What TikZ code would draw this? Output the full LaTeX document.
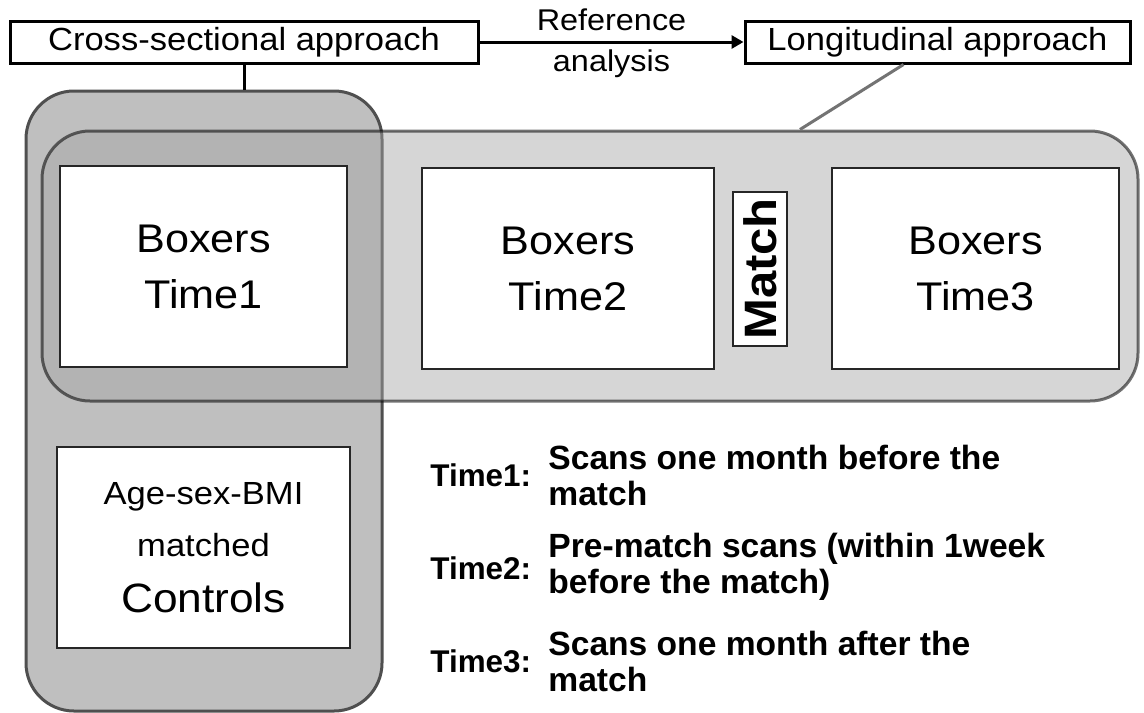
\documentclass[tikz,border=0pt]{standalone}
\usepackage{fontspec}
\setmainfont{Liberation Sans}[FakeStretch=1.08]
\newfontfamily\legendfamily{Liberation Sans}
\usetikzlibrary{arrows.meta}

\begin{document}
\begin{tikzpicture}[x=0.5pt, y=-0.5pt,
  groupbox/.style={rounded corners=24pt, line width=1.5pt, inner sep=0pt},
  timebox/.style={draw=black!85, line width=1pt, fill=white, inner sep=0pt, align=center,
    minimum width=143.5pt, minimum height=100.5pt, font=\fontsize{20}{24}\selectfont},
  headbox/.style={draw, line width=1.5pt, fill=white, inner sep=0pt, minimum height=21pt,
    font=\fontsize{16}{19}\selectfont},
  legendlab/.style={inner sep=0pt, anchor=west, font=\legendfamily\bfseries\fontsize{15.7}{18}\selectfont},
  legendtxt/.style={inner sep=0pt, anchor=west, align=left, font=\legendfamily\bfseries\fontsize{16.8}{18}\selectfont}]

\path[use as bounding box, fill=white] (0,0) rectangle (1144,712);

% groups
\node[groupbox, draw=black!69, fill=black!25, minimum width=178pt, minimum height=310pt] (cross group) at (204,401) {};
\node[groupbox, draw=black, draw opacity=0.55, fill=black!35, fill opacity=0.46, minimum width=548pt, minimum height=135pt] (long group) at (590,266) {};

% scans
\node[timebox] (time1) at (203.5,266.5) {Boxers\\[4pt]Time1};
\node[timebox, minimum width=146pt] (time2) at (568,268.5) {Boxers\\[4pt]Time2};
\node[draw=black!85, line width=1pt, fill=white, inner sep=0pt, rotate=90, minimum width=77pt, minimum height=27pt,
  font=\bfseries\fontsize{22.7}{24}\selectfont] (match) at (760,269) {Match};
\node[timebox] (time3) at (975.5,268.5) {Boxers\\[4pt]Time3};
\node[timebox, minimum width=146.5pt, font=\fontsize{16}{19.2}\selectfont] (controls) at (203.5,547.5)
  {Age-sex-BMI\\[6.8pt]matched\\[8.8pt]{\fontsize{20.5}{24}\selectfont Controls}};

% approaches
\node[headbox, minimum width=234pt] (cross) at (244,42) {Cross-sectional approach};
\node[headbox, minimum width=192.5pt] (long) at (937.5,42) {Longitudinal approach};

\draw[line width=1.5pt, -{Triangle[length=6pt, width=6.5pt]}] (cross) -- (long)
  node[midway, above, inner sep=5pt, font=\fontsize{15}{18}\selectfont] (ref) {Reference}
  node[midway, below, inner sep=3pt, font=\fontsize{15}{18}\selectfont] (ana) {analysis};
\draw[line width=1.5pt] (cross.south) -- (cross.south |- cross group.north);
\draw[line width=1.5pt, black!55] ([xshift=-17pt]long.south) -- ([xshift=105pt]long group.north);

% legend
\node[legendlab] (lab1) at (430,475) {Time1:};
\node[legendtxt] (txt1) at (548,475) {Scans one month before the\\match};
\node[legendlab] (lab2) at (430,568) {Time2:};
\node[legendtxt] (txt2) at (548,567) {Pre-match scans (within 1week\\before the match)};
\node[legendlab] (lab3) at (430,661) {Time3:};
\node[legendtxt] (txt3) at (548,661) {Scans one month after the\\match};
\end{tikzpicture}
\end{document}
